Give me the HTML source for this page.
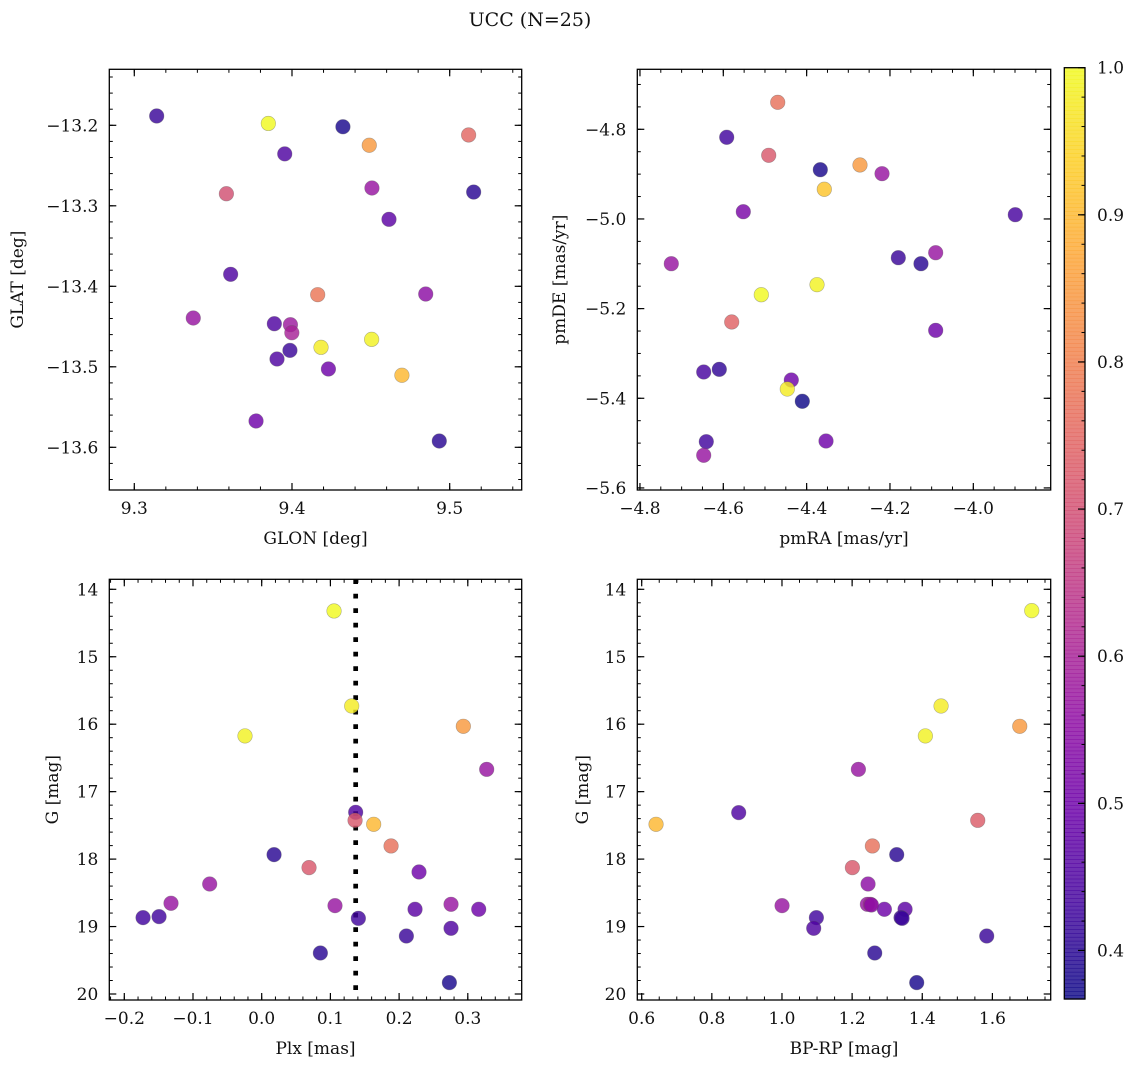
<!DOCTYPE html>
<html><head><meta charset="utf-8"><style>
html,body{margin:0;padding:0;background:#fff;}
svg{display:block;font-family:"DejaVu Serif","Liberation Serif",serif;}
</style></head><body>
<svg id="fig" width="1136" height="1067" viewBox="0 0 1136 1067" xmlns="http://www.w3.org/2000/svg">
<text x="530" y="26" font-size="19" text-anchor="middle" fill="#111">UCC (N=25)</text>
</svg>
<script>
// ---- data ----
const glonVals=[9.3142,9.3850,9.4323,9.5120,9.4490,9.3954,9.3584,9.4507,9.5152,9.4615,9.3611,9.4163,9.4848,9.3374,9.3888,9.3990,9.3999,9.3987,9.4184,9.4505,9.3905,9.4231,9.4697,9.3772,9.4934];
const glatVals=[-13.1884,-13.1977,-13.2018,-13.2120,-13.2248,-13.2355,-13.2850,-13.2779,-13.2829,-13.3168,-13.3851,-13.4104,-13.4096,-13.4394,-13.4465,-13.4477,-13.4577,-13.4796,-13.4758,-13.4659,-13.4903,-13.5027,-13.5105,-13.5673,-13.5922];
const probSky=[0.42,1.0,0.38,0.75,0.85,0.45,0.70,0.57,0.40,0.47,0.45,0.78,0.55,0.57,0.45,0.58,0.60,0.42,0.98,0.99,0.45,0.50,0.90,0.50,0.40];

const pmraVals=[-4.4694,-4.5918,-4.4910,-4.3672,-4.2720,-4.2191,-4.3576,-4.5520,-3.8993,-4.7248,-4.1800,-4.1256,-4.0903,-4.3751,-4.5088,-4.5798,-4.0903,-4.6470,-4.6096,-4.4368,-4.4464,-4.4104,-4.6408,-4.3535,-4.6470];
const pmdeVals=[-4.7398,-4.8178,-4.8580,-4.8901,-4.8796,-4.8990,-4.9338,-4.9838,-4.9905,-5.0998,-5.0864,-5.0998,-5.0753,-5.1466,-5.1690,-5.2298,-5.2484,-5.3414,-5.3354,-5.3592,-5.3793,-5.4067,-5.4968,-5.4953,-5.5272];
const probPm=[0.77,0.43,0.72,0.38,0.85,0.57,0.92,0.52,0.44,0.57,0.42,0.40,0.57,0.99,1.0,0.74,0.50,0.44,0.41,0.50,0.98,0.37,0.43,0.50,0.57];

const plxVals=[0.1053,0.131,-0.0243,0.2935,0.3275,0.1368,0.1359,0.163,0.1883,0.018,0.0689,0.229,-0.0757,-0.132,0.1067,0.2756,0.2232,0.3159,-0.1727,-0.1494,0.1407,0.2756,0.2106,0.0854,0.2732];
const gPlxVals=[14.321,15.730,16.174,16.031,16.669,17.306,17.425,17.484,17.805,17.934,18.126,18.191,18.369,18.655,18.690,18.670,18.744,18.744,18.868,18.853,18.878,19.026,19.140,19.392,19.831];
const probPlx=[1.0,0.98,0.99,0.85,0.57,0.45,0.72,0.9,0.77,0.4,0.72,0.5,0.57,0.57,0.57,0.57,0.47,0.5,0.43,0.43,0.43,0.45,0.42,0.4,0.38];
const plxRef=[0.1368];

const bprpVals=[1.7122,1.4536,1.4089,1.678,1.2179,0.8766,0.6409,1.5582,1.2578,1.3272,1.2008,1.2454,1.0002,1.2435,1.2521,1.292,1.351,1.0981,1.3395,1.3424,1.0905,1.5838,1.2645,1.3842,1.255];
const gCmdVals=[14.316,15.730,16.174,16.031,16.669,17.311,17.484,17.425,17.805,17.934,18.126,18.369,18.690,18.670,18.670,18.744,18.744,18.868,18.868,18.878,19.026,19.140,19.392,19.831,18.68];
const probCmd=[1.0,0.98,0.99,0.85,0.57,0.45,0.9,0.73,0.77,0.4,0.72,0.55,0.57,0.57,0.6,0.5,0.47,0.43,0.42,0.42,0.45,0.42,0.4,0.38,0.55];

const glonTicks=[9.3,9.4,9.5];
const glatTicks=[-13.2,-13.3,-13.4,-13.5,-13.6];
const pmraTicks=[-4.8,-4.6,-4.4,-4.2,-4.0];
const pmdeTicks=[-4.8,-5.0,-5.2,-5.4,-5.6];
const plxTicks=[-0.2,-0.1,0.0,0.1,0.2,0.3];
const gTicks=[14,15,16,17,18,19,20];
const bprpTicks=[0.6,0.8,1.0,1.2,1.4,1.6];
const cbarTicks=[0.4,0.5,0.6,0.7,0.8,0.9,1.0];
const cbarRange=[0.367,1.0];

// ---- helpers ----
const NS="http://www.w3.org/2000/svg";
const svg=document.getElementById('fig');
function mk(tag,attrs,parent){const e=document.createElementNS(NS,tag);for(const k in attrs)e.setAttribute(k,attrs[k]);(parent||svg).appendChild(e);return e;}
const plasmaStops=["#0d0887","#41049d","#6a00a8","#8f0da4","#b12a90","#cc4778","#e16462","#f2844b","#fca636","#fcce25","#f0f921"];
function hex(h){return [parseInt(h.slice(1,3),16),parseInt(h.slice(3,5),16),parseInt(h.slice(5,7),16)];}
function plasma(t){t=Math.max(0,Math.min(1,t));const f=t*10,i=Math.min(9,Math.floor(f)),r=f-i;const a=hex(plasmaStops[i]),b=hex(plasmaStops[i+1]);
 return `rgb(${Math.round(a[0]+(b[0]-a[0])*r)},${Math.round(a[1]+(b[1]-a[1])*r)},${Math.round(a[2]+(b[2]-a[2])*r)})`;}
function pcol(p){return plasma((p-cbarRange[0])/(cbarRange[1]-cbarRange[0]));}
function fmt(v,d){const s=Math.abs(v).toFixed(d);return (v<-1e-9?'\u2212':'')+s;}

function panel(cfg){
 const g=mk('g',{});
 
 
 const L=cfg.box[0],T=cfg.box[1],R=cfg.box[2],B=cfg.box[3];
 const sx=v=>L+(v-cfg.xd[0])/(cfg.xd[1]-cfg.xd[0])*(R-L);
 const sy=v=>T+(v-cfg.yd[0])/(cfg.yd[1]-cfg.yd[0])*(B-T);
 // minor ticks
 const xm=Math.min(cfg.xd[0],cfg.xd[1]),xM=Math.max(cfg.xd[0],cfg.xd[1]);
 for(let k=Math.ceil(xm/cfg.xminor-1e-6);k*cfg.xminor<=xM+1e-9;k++){const x=sx(k*cfg.xminor);
  mk('line',{x1:x,x2:x,y1:B,y2:B-3.5,stroke:'#000','stroke-width':1},g);mk('line',{x1:x,x2:x,y1:T,y2:T+3.5,stroke:'#000','stroke-width':1},g);}
 const ym=Math.min(cfg.yd[0],cfg.yd[1]),yM=Math.max(cfg.yd[0],cfg.yd[1]);
 for(let k=Math.ceil(ym/cfg.yminor-1e-6);k*cfg.yminor<=yM+1e-9;k++){const y=sy(k*cfg.yminor);
  mk('line',{x1:L,x2:L+3.5,y1:y,y2:y,stroke:'#000','stroke-width':1},g);mk('line',{x1:R,x2:R-3.5,y1:y,y2:y,stroke:'#000','stroke-width':1},g);}
 // major ticks + labels
 cfg.xticks.forEach(v=>{const x=sx(v);
  mk('line',{x1:x,x2:x,y1:B,y2:B-7,stroke:'#000','stroke-width':1.2},g);mk('line',{x1:x,x2:x,y1:T,y2:T+7,stroke:'#000','stroke-width':1.2},g);
  const t=mk('text',{x:x,y:B+24,'font-size':17,'text-anchor':'middle',fill:'#111'},g);t.textContent=fmt(v,cfg.xdec);
  
  });
 cfg.yticks.forEach(v=>{const y=sy(v);
  mk('line',{x1:L,x2:L+7,y1:y,y2:y,stroke:'#000','stroke-width':1.2},g);mk('line',{x1:R,x2:R-7,y1:y,y2:y,stroke:'#000','stroke-width':1.2},g);
  const t=mk('text',{x:L-11,y:y+6,'font-size':17,'text-anchor':'end',fill:'#111'},g);t.textContent=fmt(v,cfg.ydec);
  
  });
 // axis labels
 const xl=mk('text',{x:(L+R)/2,y:B+54,'font-size':17,'text-anchor':'middle',fill:'#111'},g);xl.textContent=cfg.xlabel;
 
 
 const yl=mk('text',{x:0,y:0,'font-size':17,'text-anchor':'middle',fill:'#111',transform:`translate(${cfg.ylx},${(T+B)/2}) rotate(-90)`},g);yl.textContent=cfg.ylabel;
 
 
 // clip
 const cid='clip-'+cfg.name;const cp=mk('clipPath',{id:cid},g);mk('rect',{x:L,y:T,width:R-L,height:B-T},cp);
 const pts=mk('g',{'clip-path':`url(#${cid})`},g);
 if(cfg.vline){cfg.vline.forEach(v=>{const x=sx(v);const ln=mk('line',{x1:x,x2:x,y1:T,y2:B,stroke:'#000','stroke-width':4.7,'stroke-dasharray':'4.7,9.8'},pts);
  
  });}
 cfg.xs.forEach((xv,i)=>{const c=mk('circle',{cx:sx(xv),cy:sy(cfg.ys[i]),r:7.3,fill:pcol(cfg.ps[i]),'fill-opacity':0.82,stroke:'rgba(90,90,90,0.45)','stroke-width':0.6},pts);
  
  });
 if(cfg.vlineOver){}
 const fr=mk('rect',{x:L,y:T,width:R-L,height:B-T,fill:'none',stroke:'#000','stroke-width':1.3},g);
 
 
}

panel({name:'glon-glat-panel',box:[109.3,69.3,521.7,490],xd:[9.28415,9.54566],yd:[-13.13043,-13.65304],
 xticks:glonTicks,yticks:glatTicks,xminor:0.02,yminor:0.02,xdec:1,ydec:1,xlabel:'GLON [deg]',ylabel:'GLAT [deg]',ylx:23,
 xs:glonVals,ys:glatVals,ps:probSky});
panel({name:'pm-panel',box:[637.3,69.3,1050.7,490],xd:[-4.80638,-3.81430],yd:[-4.66616,-5.60460],
 xticks:pmraTicks,yticks:pmdeTicks,xminor:0.05,yminor:0.05,xdec:1,ydec:1,xlabel:'pmRA [mas/yr]',ylabel:'pmDE [mas/yr]',ylx:565,
 xs:pmraVals,ys:pmdeVals,ps:probPm});
panel({name:'plx-g-panel',box:[109.3,579.3,521.7,1000],xd:[-0.22183,0.37846],yd:[13.85174,20.08895],
 xticks:plxTicks,yticks:gTicks,xminor:0.02,yminor:0.2,xdec:1,ydec:0,xlabel:'Plx [mas]',ylabel:'G [mag]',ylx:58,
 xs:plxVals,ys:gPlxVals,ps:probPlx,vline:plxRef});
panel({name:'cmd-panel',box:[637.3,579.3,1050.7,1000],xd:[0.58745,1.76624],yd:[13.85174,20.08895],
 xticks:bprpTicks,yticks:gTicks,xminor:0.05,yminor:0.2,xdec:1,ydec:0,xlabel:'BP-RP [mag]',ylabel:'G [mag]',ylx:588,
 xs:bprpVals,ys:gCmdVals,ps:probCmd});

// ---- colorbar ----
(function(){
 const g=mk('g',{});
 
 
 const L=1064.3,R=1085,T=67.7,B=999,N=240;
 const sy=v=>B-(v-cbarRange[0])/(cbarRange[1]-cbarRange[0])*(B-T);
 for(let i=0;i<N;i++){const y0=T+(B-T)*i/N;const v=cbarRange[1]-(cbarRange[1]-cbarRange[0])*(i+0.5)/N;
  mk('rect',{x:L,y:y0,width:R-L,height:(B-T)/N+0.6,fill:pcol(v),'fill-opacity':0.82},g);}
 for(let k=Math.ceil(cbarRange[0]/0.02);k*0.02<=cbarRange[1]+1e-9;k++){const y=sy(k*0.02);
  mk('line',{x1:R,x2:R-3.5,y1:y,y2:y,stroke:'#000','stroke-width':1},g);}
 cbarTicks.forEach(v=>{const y=sy(v);mk('line',{x1:R,x2:R-7,y1:y,y2:y,stroke:'#000','stroke-width':1.2},g);
  const t=mk('text',{x:1097,y:y+6,'font-size':17,fill:'#111'},g);t.textContent=v.toFixed(1);
  
  });
 mk('rect',{x:L,y:T,width:R-L,height:B-T,fill:'none',stroke:'#000','stroke-width':1.3},g);
})();
</script>
</body></html>
